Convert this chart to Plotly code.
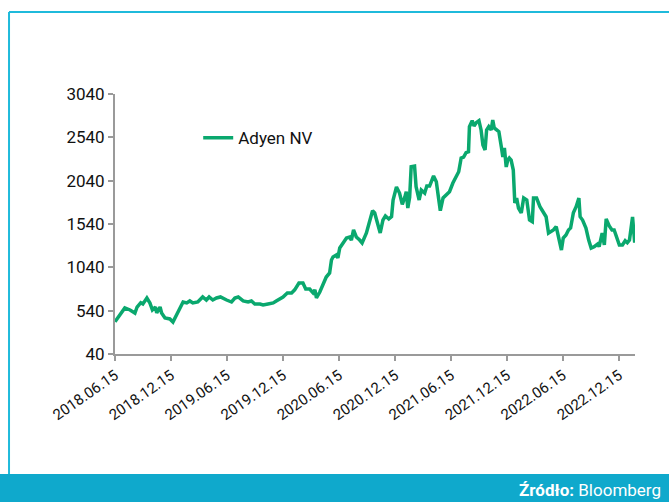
import plotly.graph_objects as go

# Adyen NV share price (EUR)
dates = [
    '2018-06-15', '2018-06-26', '2018-07-17', '2018-08-03', '2018-08-19', '2018-08-26',
    '2018-09-07', '2018-09-14', '2018-09-27', '2018-10-07', '2018-10-15', '2018-10-25',
    '2018-10-29', '2018-11-09', '2018-11-14', '2018-11-25', '2018-12-11', '2018-12-21',
    '2019-01-02', '2019-01-12', '2019-01-23', '2019-02-04', '2019-02-14', '2019-02-24',
    '2019-03-12', '2019-03-28', '2019-04-09', '2019-04-18', '2019-04-30', '2019-05-12',
    '2019-05-25', '2019-06-14', '2019-06-30', '2019-07-11', '2019-07-22', '2019-08-07',
    '2019-08-23', '2019-09-03', '2019-09-14', '2019-10-01', '2019-10-11', '2019-10-27',
    '2019-11-13', '2019-11-23', '2019-12-04', '2019-12-15', '2019-12-29', '2020-01-12',
    '2020-01-22', '2020-02-05', '2020-02-18', '2020-02-27', '2020-03-11', '2020-03-22',
    '2020-03-28', '2020-04-02', '2020-04-13', '2020-04-24', '2020-05-04', '2020-05-15',
    '2020-05-21', '2020-05-26', '2020-06-06', '2020-06-11', '2020-06-17', '2020-06-28',
    '2020-07-09', '2020-07-19', '2020-07-25', '2020-08-01', '2020-08-10', '2020-08-21',
    '2020-08-29', '2020-09-12', '2020-09-23', '2020-10-02', '2020-10-09', '2020-10-18',
    '2020-10-27', '2020-11-05', '2020-11-13', '2020-11-24', '2020-12-03', '2020-12-08',
    '2020-12-19', '2020-12-29', '2021-01-07', '2021-01-15', '2021-01-20', '2021-01-25',
    '2021-01-31', '2021-02-05', '2021-02-16', '2021-02-21', '2021-03-03', '2021-03-10',
    '2021-03-21', '2021-03-28', '2021-04-06', '2021-04-19', '2021-04-28', '2021-05-03',
    '2021-05-11', '2021-05-20', '2021-05-31', '2021-06-10', '2021-06-21', '2021-06-30',
    '2021-07-10', '2021-07-18', '2021-07-26', '2021-08-03', '2021-08-11', '2021-08-14',
    '2021-08-23', '2021-08-29', '2021-09-05', '2021-09-14', '2021-09-21', '2021-09-27',
    '2021-10-04', '2021-10-09', '2021-10-16', '2021-10-24', '2021-10-29', '2021-11-03',
    '2021-11-12', '2021-11-18', '2021-11-26', '2021-12-01', '2021-12-06', '2021-12-12',
    '2021-12-17', '2021-12-22', '2021-12-28', '2022-01-04', '2022-01-09', '2022-01-15',
    '2022-01-21', '2022-01-30', '2022-02-07', '2022-02-17', '2022-02-26', '2022-03-07',
    '2022-03-11', '2022-03-21', '2022-04-01', '2022-04-10', '2022-04-21', '2022-04-29',
    '2022-05-08', '2022-05-15', '2022-05-24', '2022-06-01', '2022-06-10', '2022-06-16',
    '2022-06-25', '2022-07-03', '2022-07-10', '2022-07-19', '2022-07-28', '2022-08-06',
    '2022-08-10', '2022-08-18', '2022-08-29', '2022-09-07', '2022-09-15', '2022-09-25',
    '2022-10-06', '2022-10-11', '2022-10-21', '2022-10-28', '2022-11-03', '2022-11-13',
    '2022-11-22', '2022-11-29', '2022-12-07', '2022-12-16', '2022-12-26', '2023-01-04',
    '2023-01-11', '2023-01-18', '2023-01-28', '2023-02-04',
]
prices = [
    413, 470, 571, 548, 513, 582,
    632, 617, 686, 628, 548, 582,
    513, 582, 513, 455, 444, 409,
    490, 548, 640, 629, 652, 629,
    640, 698, 663, 698, 663, 686,
    698, 663, 640, 686, 698, 652,
    640, 652, 617, 617, 606, 617,
    629, 652, 675, 698, 745, 745,
    780, 859, 859, 790, 790, 745,
    780, 686, 755, 836, 928, 975,
    1125, 1159, 1182, 1148, 1263, 1321,
    1378, 1390, 1355, 1471, 1390, 1355,
    1321, 1436, 1586, 1693, 1667, 1566,
    1436, 1586, 1632, 1598, 1624, 1817,
    1967, 1897, 1767, 1847, 1913, 1724,
    1847, 2201, 2209, 1970, 1817, 1932,
    1897, 1978, 1978, 2094, 2028, 1897,
    1693, 1840, 1874, 1913, 2013, 2086,
    2143, 2301, 2313, 2363, 2374, 2663,
    2732, 2671, 2709, 2732, 2625, 2451,
    2394, 2625, 2663, 2625, 2740, 2648,
    2625, 2605, 2432, 2313, 2417, 2198,
    2278, 2301, 2278, 2163, 1782, 1840,
    1724, 1667, 1840, 1817, 1586, 1566,
    1840, 1840, 1740, 1682, 1624, 1436,
    1451, 1471, 1509, 1378, 1240, 1378,
    1413, 1471, 1494, 1670, 1740, 1840,
    1624, 1586, 1494, 1355, 1263, 1278,
    1309, 1278, 1436, 1298, 1598, 1517,
    1471, 1471, 1378, 1298, 1298, 1347,
    1324, 1355, 1621, 1324,
]

x_tickvals = ['2018-06-15', '2018-12-15', '2019-06-15', '2019-12-15', '2020-06-15',
              '2020-12-15', '2021-06-15', '2021-12-15', '2022-06-15', '2022-12-15']
x_ticktext = ['2018.06.15', '2018.12.15', '2019.06.15', '2019.12.15', '2020.06.15',
              '2020.12.15', '2021.06.15', '2021.12.15', '2022.06.15', '2022.12.15']
y_tickvals = [40, 540, 1040, 1540, 2040, 2540, 3040]

GREEN = '#0aa86e'
FRAME = '#1fbadb'
BAND = '#0fa9cc'
AXIS = '#9a9a9a'
FONT = 'Roboto, sans-serif'

fig = go.Figure()

fig.add_trace(go.Scatter(
    x=dates,
    y=prices,
    mode='lines',
    name='Adyen NV',
    line=dict(color=GREEN, width=3.5),
))

# frame (left + top) and source band at the bottom
fig.add_shape(type='line', xref='paper', yref='paper',
              x0=-0.2038, x1=-0.2038, y0=-0.4615, y1=1.315,
              line=dict(color=FRAME, width=2))
fig.add_shape(type='line', xref='paper', yref='paper',
              x0=-0.2038, x1=1.1, y0=1.315, y1=1.315,
              line=dict(color=FRAME, width=2))
fig.add_shape(type='rect', xref='paper', yref='paper',
              x0=-0.3, x1=1.1, y0=-0.6, y1=-0.4615,
              line=dict(width=0), fillcolor=BAND, layer='below')

fig.add_annotation(
    text='<b>Źródło:</b> Bloomberg',
    xref='paper', yref='paper', x=1.054, y=-0.523,
    xanchor='right', yanchor='middle', showarrow=False,
    font=dict(family=FONT, size=17, color='white'),
)

fig.update_layout(
    width=669,
    height=502,
    margin=dict(l=115, r=34, t=94, b=148),
    paper_bgcolor='white',
    plot_bgcolor='white',
    showlegend=True,
    legend=dict(x=0.16, y=0.83, xanchor='left', yanchor='middle',
                bgcolor='rgba(0,0,0,0)',
                font=dict(family=FONT, size=17, color='#111111')),
    xaxis=dict(
        type='date',
        range=['2018-06-15', '2023-02-05'],
        tickvals=x_tickvals,
        ticktext=x_ticktext,
        tickangle=-35,
        ticks='outside', ticklen=5, tickwidth=1.5, tickcolor=AXIS,
        showline=True, linecolor=AXIS, linewidth=2,
        showgrid=False, zeroline=False,
        tickfont=dict(family=FONT, size=15, color='#111111'),
    ),
    yaxis=dict(
        range=[40, 3040],
        tickvals=y_tickvals,
        ticks='outside', ticklen=5, tickwidth=1.5, tickcolor=AXIS,
        showline=True, linecolor=AXIS, linewidth=2,
        showgrid=False, zeroline=False,
        tickfont=dict(family=FONT, size=17, color='#111111'),
    ),
)

# the page body has a default 8px margin; drop it so the figure fills the window
fig.write_html('out.html', config={'displayModeBar': False},
               post_script="document.body.style.margin='0';")
